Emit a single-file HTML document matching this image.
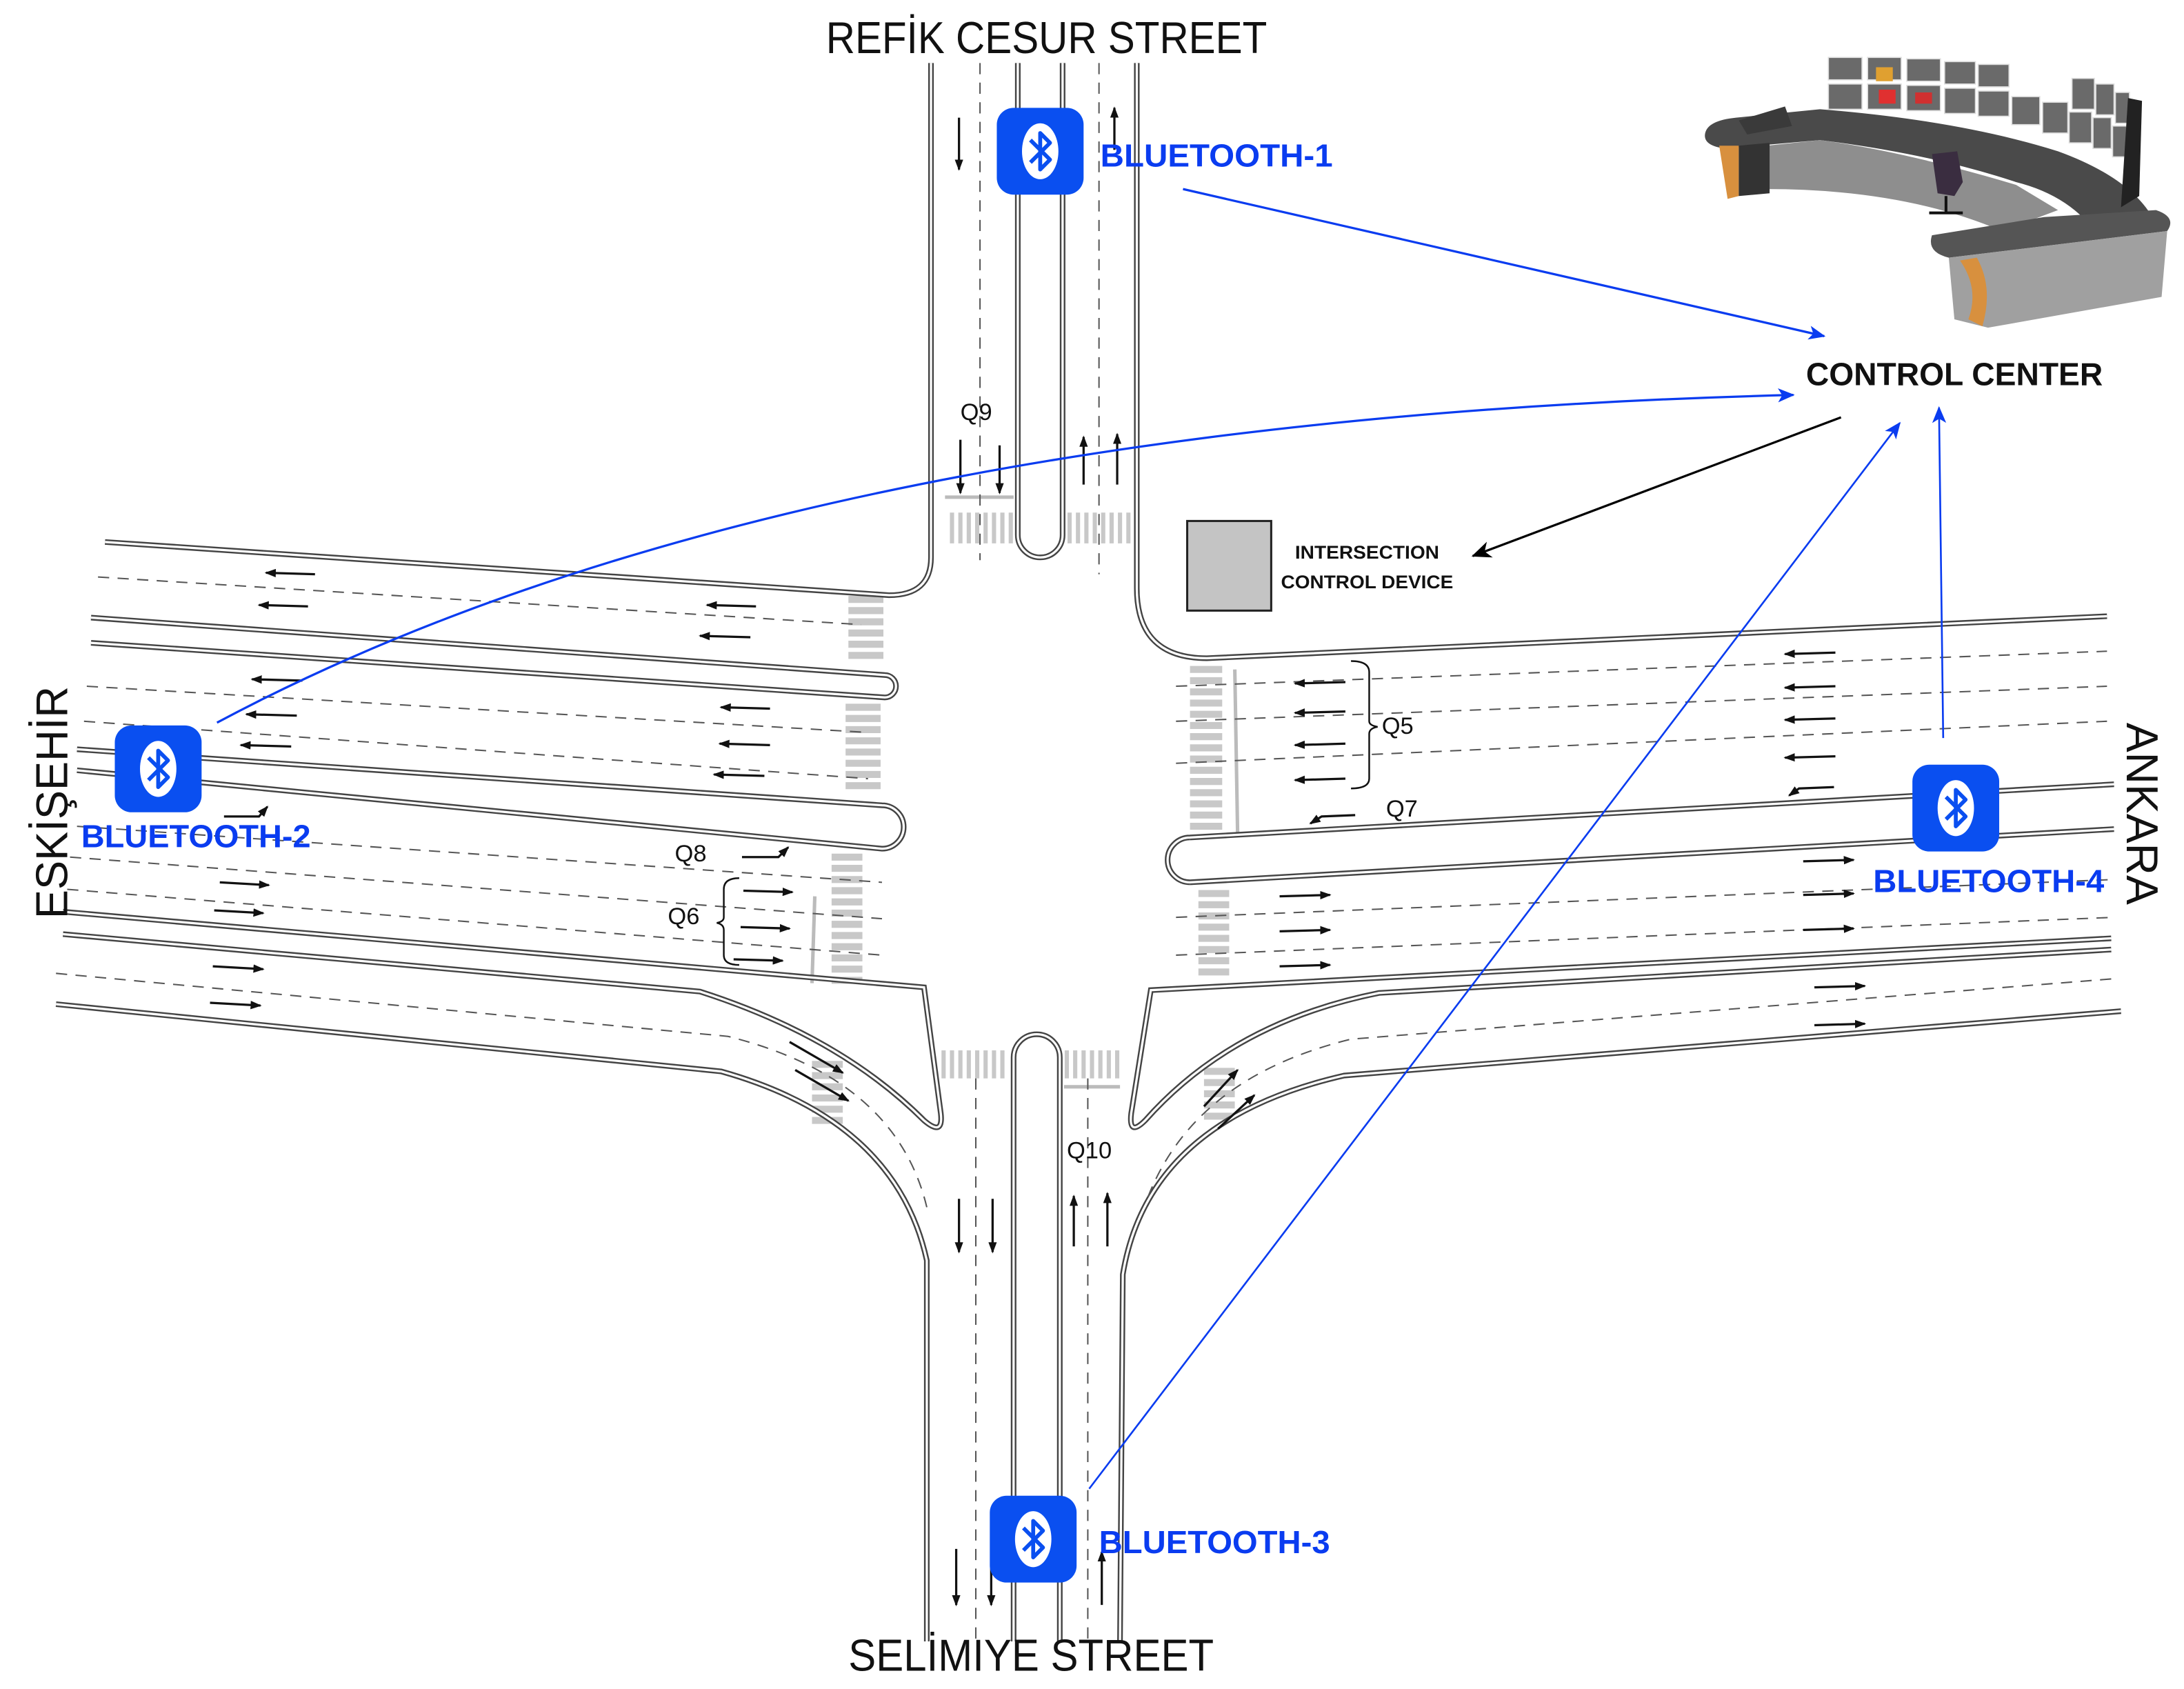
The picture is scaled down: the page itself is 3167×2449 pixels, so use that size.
<!DOCTYPE html>
<html><head><meta charset="utf-8"><style>
html,body{margin:0;padding:0;background:#fff}
svg{display:block}
</style></head><body>
<svg width="3167" height="2449" viewBox="0 0 1560 1206" preserveAspectRatio="none" xmlns="http://www.w3.org/2000/svg">
<defs>
<marker id="ab" markerWidth="8" markerHeight="6" refX="7" refY="3" orient="auto" markerUnits="userSpaceOnUse"><path d="M0,0 L8,3 L0,6 z" fill="#111"/></marker>
<marker id="abl" markerWidth="12" markerHeight="10" refX="11" refY="5" orient="auto" markerUnits="userSpaceOnUse"><path d="M0,0 L12,5 L0,10 L3,5 z" fill="#0a3cf0"/></marker>
<marker id="abk" markerWidth="14" markerHeight="12" refX="13" refY="6" orient="auto" markerUnits="userSpaceOnUse"><path d="M0,0 L14,6 L0,12 L4,6 z" fill="#000"/></marker>
<g id="roads" fill="none">
<path d="M665,45 L665,398 Q665,425 635,425 L75,387"/>
<path d="M812,45 L812,420 Q812,470 862,470 L1505,440"/>
<path d="M727,45 L727,382 A16,16 0 0 0 759,382 L759,45"/>
<path d="M65,441 L632,482 A8,8 0 0 1 632,498 L65,459"/>
<path d="M55,535 L630,575 A15,15 0 0 1 630,606 L55,550"/>
<path d="M45,651 L660,705 L672,795 Q674,812 660,800 Q600,740 500,708 L45,667"/>
<path d="M40,717 L515,765 Q640,800 662,900 L662,1172"/>
<path d="M1508,670 L822,707 L808,795 Q806,812 818,800 Q880,730 985,709 L1508,678"/>
<path d="M1515,722 L960,768 Q820,800 802,910 L800,1172"/>
<path d="M850,598 L1510,560 M850,630 L1510,592 M850,598 A16,16 0 0 0 850,630"/>
<path d="M724,1172 L724,755 A16.5,16.5 0 0 1 757,755 L757,1172"/>
</g>
</defs>
<rect width="1560" height="1206" fill="#fff"/>

<g stroke="#c8c8c8" stroke-width="5">
<path d="M606,428 h25 M606,436 h25 M606,444 h25 M606,452 h25 M606,460 h25 M606,468 h25"/>
<path d="M604,505 h25 M604,513 h25 M604,521 h25 M604,529 h25 M604,537 h25 M604,545 h25 M604,553 h25 M604,561 h25"/>
<path d="M594,612 h22 M594,620 h22 M594,628 h22 M594,636 h22 M594,644 h22 M594,652 h22 M594,660 h22 M594,668 h22 M594,676 h22 M594,684 h22 M594,692 h22 M594,700 h22"/>
<path d="M850,478 h23 M850,486 h23 M850,494 h23 M850,502 h23 M850,510 h23 M850,518 h23 M850,526 h23 M850,534 h23 M850,542 h23 M850,550 h23 M850,558 h23 M850,566 h23 M850,574 h23 M850,582 h23 M850,590 h23"/>
<path d="M856,638 h22 M856,646 h22 M856,654 h22 M856,662 h22 M856,670 h22 M856,678 h22 M856,686 h22 M856,694 h22"/>
<path d="M580,760 h22 M580,768 h22 M580,776 h22 M580,784 h22 M580,792 h22 M580,800 h22"/>
<path d="M860,765 h22 M860,773 h22 M860,781 h22 M860,789 h22 M860,797 h22"/>
</g>
<g stroke="#c8c8c8" stroke-width="3">
<path d="M680,366 v22 M686,366 v22 M692,366 v22 M698,366 v22 M704,366 v22 M710,366 v22 M716,366 v22 M722,366 v22"/>
<path d="M764,366 v22 M770,366 v22 M776,366 v22 M782,366 v22 M788,366 v22 M794,366 v22 M800,366 v22 M806,366 v22"/>
<path d="M674,750 v20 M680,750 v20 M686,750 v20 M692,750 v20 M698,750 v20 M704,750 v20 M710,750 v20 M716,750 v20"/>
<path d="M762,750 v20 M768,750 v20 M774,750 v20 M780,750 v20 M786,750 v20 M792,750 v20 M798,750 v20"/>
</g>
<g stroke="#bbb" stroke-width="2.5" fill="none">
<path d="M675,355 H724 M582,640 L580,702 M882,478 L884,595 M760,776 H800"/>
</g>

<use href="#roads" stroke="#444" stroke-width="4"/>
<use href="#roads" stroke="#fff" stroke-width="1.6"/>

<g stroke="#555" stroke-width="1" stroke-dasharray="8,6" fill="none">
<path d="M700,45 V400 M785,45 V410"/>
<path d="M697,770 V1172 M777,770 V1172"/>
<path d="M70,412 L615,446"/>
<path d="M62,490 L620,523 M60,515 L620,556"/>
<path d="M55,590 L630,630 M50,612 L630,656 M48,635 L630,682"/>
<path d="M40,695 L520,740 Q640,770 662,862"/>
<path d="M840,490 L1505,465 M840,515 L1505,490 M840,545 L1505,515"/>
<path d="M840,655 L1510,628 M840,682 L1510,655"/>
<path d="M1508,699 L965,742 Q850,770 818,860"/>
</g>

<g stroke="#111" stroke-width="1.6" marker-end="url(#ab)">
<line x1="225" y1="410" x2="190" y2="409"/>
<line x1="220" y1="433" x2="185" y2="432"/>
<line x1="540" y1="433" x2="505" y2="432"/>
<line x1="536" y1="455" x2="500" y2="454"/>
<line x1="216" y1="486" x2="180" y2="485"/>
<line x1="212" y1="511" x2="176" y2="510"/>
<line x1="208" y1="533" x2="172" y2="532"/>
<line x1="550" y1="506" x2="515" y2="505"/>
<line x1="550" y1="532" x2="514" y2="531"/>
<line x1="546" y1="554" x2="510" y2="553"/>
<line x1="157" y1="630" x2="192" y2="632"/>
<line x1="153" y1="650" x2="188" y2="652"/>
<line x1="152" y1="690" x2="188" y2="692"/>
<line x1="150" y1="716" x2="186" y2="718"/>
<line x1="531" y1="636" x2="566" y2="637"/>
<line x1="529" y1="662" x2="564" y2="663"/>
<line x1="524" y1="685" x2="559" y2="686"/>
<line x1="961" y1="487" x2="925" y2="488"/>
<line x1="961" y1="508" x2="925" y2="509"/>
<line x1="961" y1="531" x2="925" y2="532"/>
<line x1="961" y1="556" x2="925" y2="557"/>
<line x1="1311" y1="466" x2="1275" y2="467"/>
<line x1="1311" y1="490" x2="1275" y2="491"/>
<line x1="1311" y1="513" x2="1275" y2="514"/>
<line x1="1311" y1="540" x2="1275" y2="541"/>
<line x1="914" y1="640" x2="950" y2="639"/>
<line x1="914" y1="665" x2="950" y2="664"/>
<line x1="914" y1="690" x2="950" y2="689"/>
<line x1="1288" y1="615" x2="1324" y2="614"/>
<line x1="1288" y1="639" x2="1324" y2="638"/>
<line x1="1288" y1="664" x2="1324" y2="663"/>
<line x1="1296" y1="705" x2="1332" y2="704"/>
<line x1="1296" y1="732" x2="1332" y2="731"/>
<line x1="685" y1="84" x2="685" y2="121"/>
<line x1="796" y1="107" x2="796" y2="77"/>
<line x1="686" y1="314" x2="686" y2="352"/>
<line x1="714" y1="318" x2="714" y2="352"/>
<line x1="774" y1="346" x2="774" y2="312"/>
<line x1="798" y1="346" x2="798" y2="310"/>
<line x1="685" y1="856" x2="685" y2="894"/>
<line x1="709" y1="856" x2="709" y2="894"/>
<line x1="767" y1="890" x2="767" y2="854"/>
<line x1="791" y1="890" x2="791" y2="852"/>
<line x1="683" y1="1106" x2="683" y2="1146"/>
<line x1="708" y1="1106" x2="708" y2="1146"/>
<line x1="787" y1="1146" x2="787" y2="1108"/>
<line x1="564" y1="744" x2="602" y2="766"/>
<line x1="568" y1="764" x2="606" y2="786"/>
<line x1="860" y1="790" x2="884" y2="764"/>
<line x1="870" y1="806" x2="896" y2="782"/>
<polyline points="160,583 185,583 191,576" fill="none"/>
<polyline points="530,612 556,612 563,605" fill="none"/>
<polyline points="968,582 944,583 936,588" fill="none"/>
<polyline points="1310,562 1285,563 1278,568" fill="none"/>
</g>

<g stroke="#111" stroke-width="1.2" fill="none">
<path d="M965,472 Q978,472 978,480 L978,515 Q978,518 984,519 Q978,520 978,524 L978,556 Q978,563 965,563"/>
<path d="M528,627 Q517,627 517,635 L517,655 Q517,658 512,659 Q517,660 517,664 L517,682 Q517,689 528,689"/>
</g>

<g font-family="Liberation Sans, sans-serif" font-size="17" fill="#111">
<text x="686" y="300">Q9</text>
<text x="987" y="524">Q5</text>
<text x="990" y="583">Q7</text>
<text x="482" y="615">Q8</text>
<text x="477" y="660">Q6</text>
<text x="762" y="827">Q10</text>
</g>

<rect x="848" y="372" width="60" height="64" fill="#c4c4c4" stroke="#222" stroke-width="1.5"/>
<g font-family="Liberation Sans, sans-serif" font-weight="bold" font-size="13" fill="#111">
<text x="925" y="399" textLength="103" lengthAdjust="spacingAndGlyphs">INTERSECTION</text>
<text x="915" y="420" textLength="123" lengthAdjust="spacingAndGlyphs">CONTROL DEVICE</text>
</g>

<g>
<path d="M1218,95 Q1220,86 1240,84 L1300,78 Q1400,86 1470,108 Q1525,128 1540,160 L1500,170 Q1480,140 1440,130 Q1380,110 1300,100 L1232,106 Q1216,104 1218,95 z" fill="#4a4a4a"/>
<path d="M1262,104 L1300,100 Q1360,108 1440,132 L1470,150 L1430,165 Q1360,135 1262,135 z" fill="#8e8e8e"/>
<path d="M1228,104 L1242,104 L1242,140 L1234,142 z" fill="#d8903e"/>
<path d="M1242,104 L1264,102 L1264,138 L1242,140 z" fill="#333"/>
<path d="M1242,86 L1275,76 L1280,90 L1248,96 z" fill="#3a3a3a"/>
<path d="M1380,168 Q1376,180 1392,184 L1548,165 Q1555,155 1540,150 L1460,155 z" fill="#555"/>
<path d="M1392,184 L1548,165 L1544,212 L1420,234 L1396,228 z" fill="#a0a0a0"/>
<path d="M1400,186 Q1414,206 1406,228 L1416,233 Q1424,205 1412,184 z" fill="#d8903e"/>
<g fill="#6a6a6a" stroke="#ddd" stroke-width="0.8">
<rect x="1306" y="41" width="24" height="16"/><rect x="1334" y="41" width="24" height="16"/><rect x="1362" y="42" width="24" height="16"/><rect x="1389" y="44" width="22" height="16"/><rect x="1413" y="46" width="22" height="16"/>
<rect x="1306" y="60" width="24" height="18"/><rect x="1334" y="60" width="24" height="18"/><rect x="1362" y="61" width="24" height="18"/><rect x="1389" y="63" width="22" height="18"/><rect x="1413" y="65" width="22" height="18"/>
<rect x="1437" y="69" width="20" height="20"/><rect x="1459" y="73" width="18" height="22"/>
<rect x="1480" y="56" width="16" height="22"/><rect x="1497" y="60" width="13" height="22"/><rect x="1511" y="66" width="10" height="22"/>
<rect x="1478" y="80" width="16" height="22"/><rect x="1495" y="84" width="13" height="22"/><rect x="1509" y="90" width="10" height="22"/>
</g>
<rect x="1340" y="48" width="12" height="10" fill="#e0a030"/><rect x="1342" y="64" width="12" height="10" fill="#e03030"/><rect x="1368" y="66" width="12" height="8" fill="#d03030"/>
<path d="M1520,70 L1530,72 L1528,140 L1515,148 z" fill="#222"/>
<path d="M1380,110 L1398,108 L1402,130 L1396,140 L1384,138 z" fill="#3a2d40"/>
<path d="M1378,152 L1402,152 M1390,140 L1390,152" stroke="#111" stroke-width="2"/>
</g>

<g fill="none" stroke-width="1.6">
<line x1="845" y1="135" x2="1303" y2="240" stroke="#0a3cf0" marker-end="url(#abl)"/>
<path d="M155,516 Q560,300 1281,282" stroke="#0a3cf0" marker-end="url(#abl)"/>
<line x1="778" y1="1063" x2="1357" y2="302" stroke="#0a3cf0" stroke-width="1.3" marker-end="url(#abl)"/>
<line x1="1388" y1="527" x2="1385" y2="291" stroke="#0a3cf0" stroke-width="1.3" marker-end="url(#abl)"/>
<line x1="1315" y1="298" x2="1052" y2="397" stroke="#000" marker-end="url(#abk)"/>
</g>

<g id="bt1" transform="translate(712,77)">
<rect width="62" height="62" rx="12" fill="#0a4ff0"/>
<ellipse cx="31" cy="31" rx="13" ry="20" fill="#fff"/>
<path d="M24,23 L38,37 L31,44 L31,18 L38,25 L24,39" fill="none" stroke="#0a4ff0" stroke-width="2.8" stroke-linejoin="round"/>
</g>
<use href="#bt1" transform="translate(-630,441)"/>
<use href="#bt1" transform="translate(654,469)"/>
<use href="#bt1" transform="translate(-5,991)"/>

<g font-family="Liberation Sans, sans-serif" font-weight="bold" font-size="23" fill="#0a3cf0">
<text x="786" y="119" textLength="166" lengthAdjust="spacingAndGlyphs">BLUETOOTH-1</text>
<text x="58" y="605" textLength="164" lengthAdjust="spacingAndGlyphs">BLUETOOTH-2</text>
<text x="785" y="1109" textLength="165" lengthAdjust="spacingAndGlyphs">BLUETOOTH-3</text>
<text x="1338" y="637" textLength="165" lengthAdjust="spacingAndGlyphs">BLUETOOTH-4</text>
</g>
<text x="1290" y="275" font-family="Liberation Sans, sans-serif" font-weight="bold" font-size="23" fill="#111" textLength="212" lengthAdjust="spacingAndGlyphs">CONTROL CENTER</text>
<g font-family="Liberation Sans, sans-serif" font-size="32" fill="#111">
<text x="590" y="38" textLength="315" lengthAdjust="spacingAndGlyphs">REFİK CESUR STREET</text>
<text x="606" y="1193" textLength="261" lengthAdjust="spacingAndGlyphs">SELİMIYE STREET</text>
<text transform="translate(48,656) rotate(-90)" textLength="166" lengthAdjust="spacingAndGlyphs">ESKİŞEHİR</text>
<text transform="translate(1519,516) rotate(90)" textLength="130" lengthAdjust="spacingAndGlyphs">ANKARA</text>
</g>
</svg>
</body></html>
